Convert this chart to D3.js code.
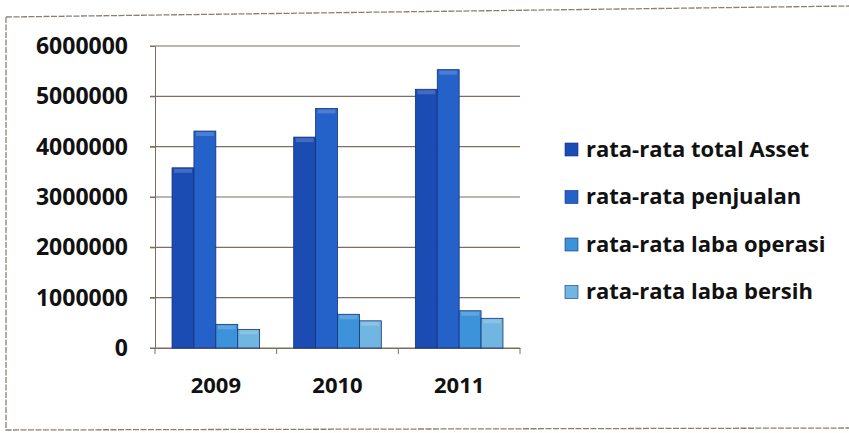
<!DOCTYPE html>
<html><head><meta charset="utf-8">
<script src="https://cdn.jsdelivr.net/npm/d3@7"></script>
<style>body{margin:0;background:#fff}svg{display:block}</style>
</head><body>
<svg id="c" width="849" height="433"></svg>
<script>
const categories = ["2009","2010","2011"];
const seriesNames = ["rata-rata total Asset","rata-rata penjualan","rata-rata laba operasi","rata-rata laba bersih"];
const totalAsset = [3580000, 4190000, 5140000];
const penjualan = [4310000, 4760000, 5530000];
const labaOperasi = [470000, 670000, 740000];
const labaBersih = [370000, 540000, 590000];
const yTicks = [0,1000000,2000000,3000000,4000000,5000000,6000000];
const colors = ["#1a4cb4","#2462c9","#3c93d9","#70b6e0"];

const series = [totalAsset, penjualan, labaOperasi, labaBersih];
const svg = d3.select("#c");
const font = "'Open Sans', Lato, sans-serif";

// outer frame
svg.append("path")
  .attr("d","M6,17 L849,6 M6,17 L6,430 L849,428")
  .attr("fill","none").attr("stroke","#8a8070").attr("stroke-width",1.3).attr("stroke-dasharray","6,1.5");

const x0 = d3.scaleBand().domain(categories).range([155,520]).paddingInner(0.28).paddingOuter(0.14);
const x1 = d3.scaleBand().domain(d3.range(4)).range([0, x0.bandwidth()]);
const y = d3.scaleLinear().domain([0,6000000]).range([348,46]);

// gridlines
svg.append("g").selectAll("line").data(yTicks).join("line")
  .attr("x1",150).attr("x2",520).attr("y1",d=>y(d)).attr("y2",d=>y(d))
  .attr("stroke","#7d6e5e").attr("stroke-width",1.2);

// axes
const ya = svg.append("g").attr("transform","translate(155,0)")
  .call(d3.axisLeft(y).tickValues(yTicks).tickFormat(d3.format("d")).tickSize(5).tickPadding(22));
ya.select(".domain").attr("stroke","#7d6e5e");
ya.selectAll("line").attr("stroke","#7d6e5e");
ya.selectAll("text").attr("font-family",font).attr("font-weight","bold").attr("font-size",23).attr("fill","#111");

const xbands = d3.scaleBand().domain(categories).range([155,520]);
const xa = svg.append("g").attr("transform","translate(0,348)")
  .call(d3.axisBottom(xbands).tickSize(0).tickPadding(29));
xa.select(".domain").attr("stroke","#7d6e5e");
xa.selectAll("text").attr("font-family",font).attr("font-weight","bold").attr("font-size",22).attr("fill","#111");
svg.append("g").selectAll("line").data([155, ...categories.map(c=>xbands(c)+xbands.bandwidth())]).join("line")
  .attr("x1",d=>d).attr("x2",d=>d).attr("y1",348).attr("y2",354).attr("stroke","#7d6e5e");

// bars
const g = svg.append("g");
categories.forEach((c,ci)=>{
  series.forEach((s,si)=>{
    const bx = x0(c)+x1(si), bw = x1.bandwidth();
    g.append("rect").attr("x",bx).attr("y",y(s[ci])).attr("width",bw).attr("height",348-y(s[ci]))
      .attr("fill",colors[si]).attr("stroke","#16307a").attr("stroke-width",0.8);
    g.append("rect").attr("x",bx+2).attr("y",y(s[ci])+1).attr("width",bw-4).attr("height",4)
      .attr("fill","#ffffff").attr("opacity",0.18);
  });
});

// legend
const lg = svg.append("g").attr("transform","translate(565,149)");
seriesNames.forEach((n,i)=>{
  const r = lg.append("g").attr("transform",`translate(0,${i*47.5})`);
  r.append("rect").attr("x",0).attr("y",-6).attr("width",13).attr("height",13).attr("fill",colors[i]).attr("stroke","#16307a").attr("stroke-width",0.6);
  r.append("text").attr("x",21).attr("y",0).attr("dy","0.35em").text(n)
    .attr("font-family",font).attr("font-weight","bold").attr("font-size",22).attr("fill","#111");
});
</script>
</body></html>
